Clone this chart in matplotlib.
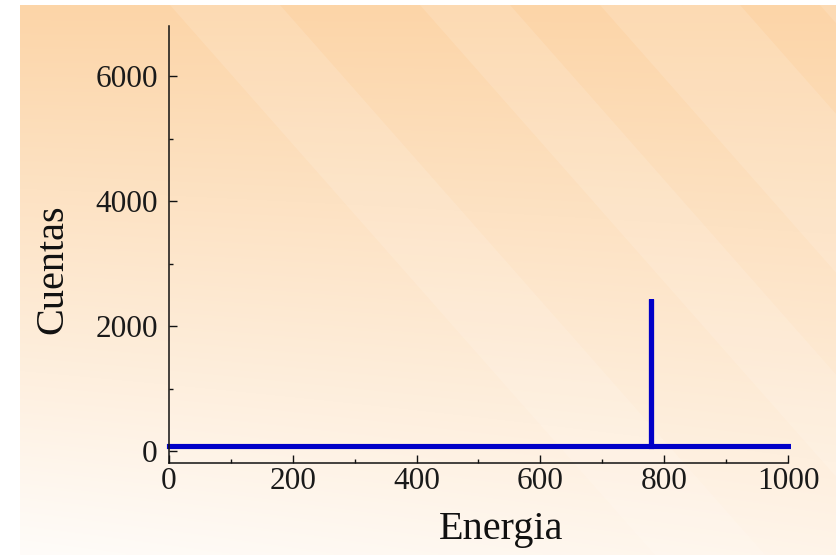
import numpy as np
import matplotlib
matplotlib.use("Agg")
import matplotlib.pyplot as plt
from matplotlib.ticker import MultipleLocator

# espectro: linea base casi plana y un solo pico
energia = [0, 778, 778, 778, 1000]
cuentas = [80, 80, 2440, 80, 80]

x_ticks = [0, 200, 400, 600, 800, 1000]
y_ticks = [0, 2000, 4000, 6000]

plt.rcParams["font.family"] = ["Liberation Serif", "DejaVu Serif"]

W, H = 836, 555
fig = plt.figure(figsize=(W / 100, H / 100), dpi=100)

# fondo naranja con degradado y bandas diagonales
bg = fig.add_axes([0, 0, 1, 1], zorder=-5)
bg.set_xlim(0, W)
bg.set_ylim(H, 0)
bg.axis("off")
yy, xx = np.mgrid[0:1:200j, 0:1:300j]
t = np.clip(0.8 * yy + 0.2 * (1 - xx) * yy, 0, 1)
top = np.array([252, 213, 168]) / 255
bot = np.array([255, 252, 249]) / 255
img = top[None, None, :] * (1 - t[..., None]) + bot[None, None, :] * t[..., None]
bg.imshow(img, extent=(20, W, H, 5), aspect="auto", interpolation="bilinear")
for x0, w in [(170, 110), (420, 90), (600, 140), (820, 80)]:
    bg.fill([x0, x0 + w, x0 + w + 560, x0 + 560], [5, 5, 640, 640],
            color="white", alpha=0.13, lw=0)

ax = fig.add_axes([159.7 / W, (H - 462.9) / H, 631.4 / W, 436.9 / H])
ax.patch.set_alpha(0)
ax.plot(energia, cuentas, color="#0000c8", lw=3.7, solid_capstyle="projecting",
        solid_joinstyle="miter")
ax.set_xlim(-15, 1005)
ax.set_ylim(-190, 6800)

ax.spines["top"].set_visible(False)
ax.spines["right"].set_visible(False)
ax.spines["left"].set_position(("data", 0))
ax.spines["bottom"].set_bounds(0, 1000)
for s in ("left", "bottom"):
    ax.spines[s].set_linewidth(1.1)
    ax.spines[s].set_color("#111111")

ax.set_xticks(x_ticks)
ax.set_yticks(y_ticks)
ax.xaxis.set_minor_locator(MultipleLocator(100))
ax.yaxis.set_minor_locator(MultipleLocator(1000))
ax.tick_params(which="both", direction="in", colors="#111111", width=1.0,
               labelsize=22.5, labelcolor="#1a1a1a")
ax.tick_params(which="major", length=6)
ax.tick_params(which="minor", length=3)
ax.tick_params(axis="x", pad=3)
ax.tick_params(axis="y", pad=8)

ax.set_xlabel("Energia", fontsize=29, color="#111111")
ax.set_ylabel("Cuentas", fontsize=29, color="#111111")
ax.xaxis.set_label_coords(0.54, -0.11)
ax.yaxis.set_label_coords(-0.14, 0.444)

fig.savefig("out.png", dpi=100)
